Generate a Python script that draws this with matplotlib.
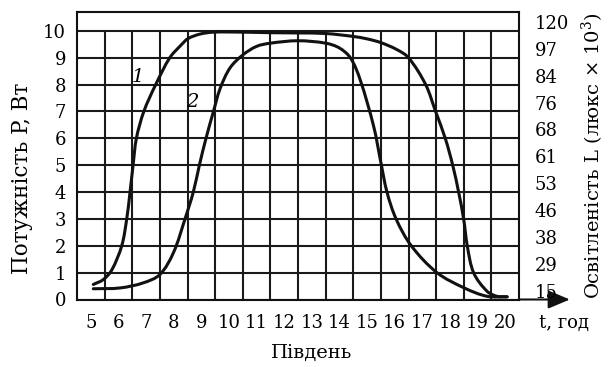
import numpy as np
import matplotlib
matplotlib.use("Agg")
import matplotlib.pyplot as plt
from matplotlib.patches import FancyArrowPatch, PathPatch
from matplotlib.path import Path

plt.rcParams.update({
    "font.family": ["DejaVu Serif"],
    "mathtext.fontset": "dejavuserif",
    "font.size": 13,
})

# hours (label centres sit in the middle of each grid cell)
hours = list(range(5, 21))
p_ticks = list(range(0, 11))
lux_labels = ["15", "29", "38", "46", "53", "61", "68", "76", "84", "97", "120"]

# curve 1
t1 = [5.09, 5.45, 5.76, 6.12, 6.30, 6.42, 6.53, 6.65, 6.92, 7.35, 7.86, 8.25,
      8.52, 8.96, 9.44, 10.5, 11.5, 12.5, 13.5, 14.5, 15.0, 15.5, 16.08, 16.5,
      17.12, 17.48, 17.83, 18.10, 18.32, 18.50, 18.63, 18.86, 19.34, 19.70, 20.07]
p1 = [0.56, 0.74, 1.10, 2.00, 3.00, 4.00, 5.00, 6.00, 7.00, 8.00, 9.00, 9.45,
      9.71, 9.88, 9.95, 9.95, 9.93, 9.92, 9.90, 9.79, 9.70, 9.56, 9.30, 9.00,
      8.00, 7.00, 6.00, 5.00, 3.97, 2.97, 1.98, 0.99, 0.31, 0.12, 0.10]

# curve 2
t2 = [5.09, 6.06, 6.90, 7.50, 7.99, 8.41, 8.71, 8.93, 9.17, 9.44, 9.68, 10.04,
      10.5, 11.0, 11.5, 12.5, 13.5, 14.0, 14.4, 14.75, 15.24, 15.5, 15.72,
      16.05, 16.60, 17.53, 18.52, 19.34, 20.07]
p2 = [0.40, 0.43, 0.62, 0.93, 1.74, 3.00, 4.00, 5.00, 6.00, 7.00, 7.85, 8.62,
      9.10, 9.42, 9.54, 9.63, 9.54, 9.36, 8.99, 8.18, 6.44, 5.10, 4.00,
      3.00, 2.00, 1.00, 0.43, 0.12, 0.10]


def smooth_path(ax, xs, ys):
    """Bezier path through the read points (handles set in pixel space)."""
    tr = ax.transData
    P = tr.transform(np.column_stack([xs, ys]))
    n = len(P)
    tang = np.zeros_like(P)
    for i in range(n):
        a = P[max(i - 1, 0)]
        b = P[min(i + 1, n - 1)]
        d = b - a
        tang[i] = d / np.hypot(*d)
    verts = [P[0]]
    codes = [Path.MOVETO]
    for i in range(n - 1):
        L = np.hypot(*(P[i + 1] - P[i])) / 3.0
        verts += [P[i] + tang[i] * L, P[i + 1] - tang[i + 1] * L, P[i + 1]]
        codes += [Path.CURVE4] * 3
    verts = tr.inverted().transform(np.array(verts))
    return Path(verts, codes)


W, H = 611, 367
fig = plt.figure(figsize=(W / 100, H / 100), dpi=100)
ax = fig.add_axes([77 / W, (H - 299.5) / H, 442 / W, 287.5 / H])
ax.set_xlim(4.5, 20.5)
ax.set_ylim(0, 10.7)

grid_c = "#1a1a1a"
ax.hlines(p_ticks, 4.5, 20.5, color=grid_c, lw=1.5, zorder=1)
ax.vlines(np.arange(5.5, 20.5, 1.0), 0, 10, color=grid_c, lw=1.5, zorder=1)

for xs, ys in [(t1, p1), (t2, p2)]:
    ax.add_patch(PathPatch(smooth_path(ax, xs, ys), fc="none", ec="#111111",
                           lw=2.2, capstyle="round", joinstyle="round",
                           zorder=3))
ax.text(6.71, 8.29, "1", style="italic", fontsize=14, ha="center", va="center")
ax.text(8.67, 7.36, "2", style="italic", fontsize=14, ha="center", va="center")

for s in ax.spines.values():
    s.set_linewidth(1.5)
    s.set_color("#111111")

ax.set_xticks(hours)
ax.set_xticklabels([str(h) for h in hours])
ax.set_yticks(p_ticks)
ax.tick_params(length=0, pad=8)
ax.tick_params(axis="x", pad=10.5)

ax2 = ax.twinx()
ax2.set_ylim(ax.get_ylim())
ax2.set_yticks([v + 0.33 for v in p_ticks])
ax2.set_yticklabels(lux_labels)
ax2.tick_params(length=0, pad=11.5)
for s in ax2.spines.values():
    s.set_visible(False)

# x axis arrow past the frame
arr = FancyArrowPatch((1.0, 0.0), (1.115, 0.0), transform=ax.transAxes,
                      arrowstyle="-|>,head_length=0.95,head_width=0.4",
                      mutation_scale=14, color="#111111", lw=1.5,
                      clip_on=False, shrinkA=0, shrinkB=0)
ax.add_patch(arr)

fig.text(22 / W, 1 - 178 / H, "Потужність P, Вт", rotation=90,
         ha="center", va="center", fontsize=15.5)
fig.text(593 / W, 1 - 156 / H, r"Освітленість L (люкс $\times$ 10$^3$)",
         rotation=90, ha="center", va="center", fontsize=14)
fig.text(564 / W, 1 - 323 / H, "t, год", ha="center", va="center", fontsize=13)
fig.text(312 / W, 1 - 353 / H, "Південь", ha="center", va="center", fontsize=14)

fig.savefig("out.png", dpi=100)
